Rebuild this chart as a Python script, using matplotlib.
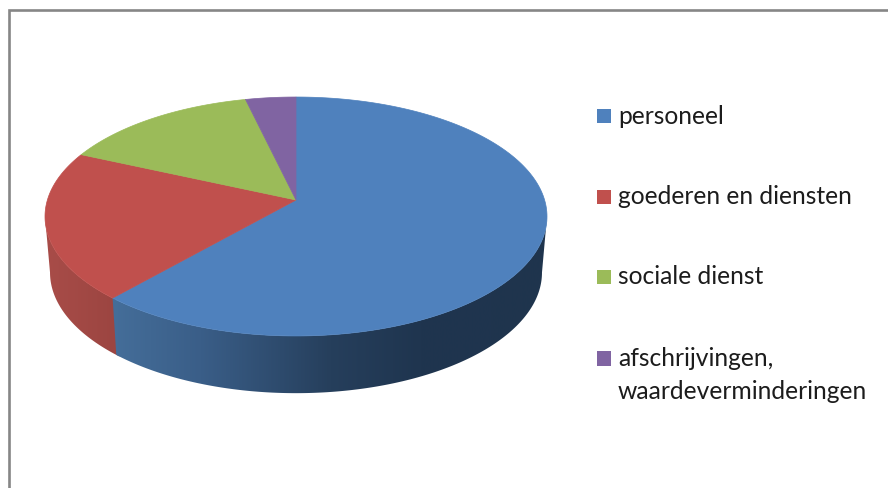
"""3D look pie chart with a side wall, drawn in pixel coordinates."""

import numpy as np
import matplotlib
matplotlib.use("Agg")
import matplotlib.pyplot as plt
from matplotlib.colors import LinearSegmentedColormap
from matplotlib.patches import Polygon, Rectangle

labels = ["personeel", "goederen en diensten", "sociale dienst", "afschrijvingen,\nwaardeverminderingen"]
shares = [61.5, 20.2, 14.6, 3.7]
colors = ["#4F81BD", "#C0504D", "#9BBB59", "#8064A2"]

# perspective of the top disc
APEX_X, APEX_Y = 296, 200
A, B, K = 117.2, 248.6, 0.138
ELLIPSE_Y = 216
WALL_SHRINK_X, WALL_SHRINK_Y, WALL_DROP = 0.98, 1.01, 56


def top_edge(t):
    # t is degrees clockwise from 12 o'clock
    r = np.radians(t)
    d = 1 + K * np.cos(r)
    return APEX_X + B * np.sin(r) / d, APEX_Y - A * np.cos(r) / d


def wall_edge(t):
    x, y = top_edge(t)
    return APEX_X + WALL_SHRINK_X * (x - APEX_X), ELLIPSE_Y + WALL_DROP + WALL_SHRINK_Y * (y - ELLIPSE_Y)


def draw_wall(ax, t0, t1, stops, zorder):
    # horizontal gradient image cut to the shape of the wall
    ts = np.linspace(t0, t1, 300)
    xa, ya = top_edge(ts)
    xb, yb = wall_edge(ts)
    pts = np.c_[np.r_[xa, xb[::-1]], np.r_[ya, yb[::-1]]]
    x0, x1 = stops[0][0], stops[-1][0]
    cmap = LinearSegmentedColormap.from_list("wall", [((x - x0) / (x1 - x0), c) for x, c in stops])
    im = ax.imshow(np.linspace(0, 1, 512)[None, :], extent=(x0, x1, 488, 0), cmap=cmap, aspect="auto", zorder=zorder)
    im.set_clip_path(Polygon(pts, transform=ax.transData))


fig = plt.figure(figsize=(8.88, 4.88), dpi=100)
ax = fig.add_axes([0, 0, 1, 1])
ax.axis("off")

# chart frame, runs off the crop to the right and at the bottom
ax.plot([9.4, 9.4, 890], [490, 10.4, 10.4], color="#868686", lw=1.9, solid_joinstyle="miter", zorder=0)

edges = np.cumsum([0] + shares) * 3.6

# the wall starts where the disc is widest
side = np.degrees(np.arccos(-K))
blue_stops = [(100, "#46709C"), (200, "#3A5E88"), (330, "#263F5C"), (420, "#1F354F"), (560, "#1F344D")]
red_stops = [(30, "#AB4E4A"), (125, "#9A4440")]
draw_wall(ax, edges[1] - 1, 360 - side, red_stops, 1)
draw_wall(ax, side, edges[1], blue_stops, 1.5)

for t0, t1, c in zip(edges[:-1], edges[1:], colors):
    ts = np.linspace(t0, t1, 200)
    xs, ys = top_edge(ts)
    ax.fill(np.r_[APEX_X, xs], np.r_[APEX_Y, ys], color=c, lw=0.5, zorder=2)

legend_y = [116, 197, 277, 358.5]
for label, c, y in zip(labels, colors, legend_y):
    ax.add_patch(Rectangle((596.7, y - 7.2), 14, 14.5, color=c, lw=0, zorder=3))
    for i, line in enumerate(label.split("\n")):
        ax.text(618, y + 7.5 + 33.3 * i, line, fontsize=17.7, family="Lato", color="#1c1c1c",
                va="baseline", ha="left", zorder=3)

ax.set_xlim(0, 888)
ax.set_ylim(488, 0)
fig.savefig("out.png", dpi=100)
